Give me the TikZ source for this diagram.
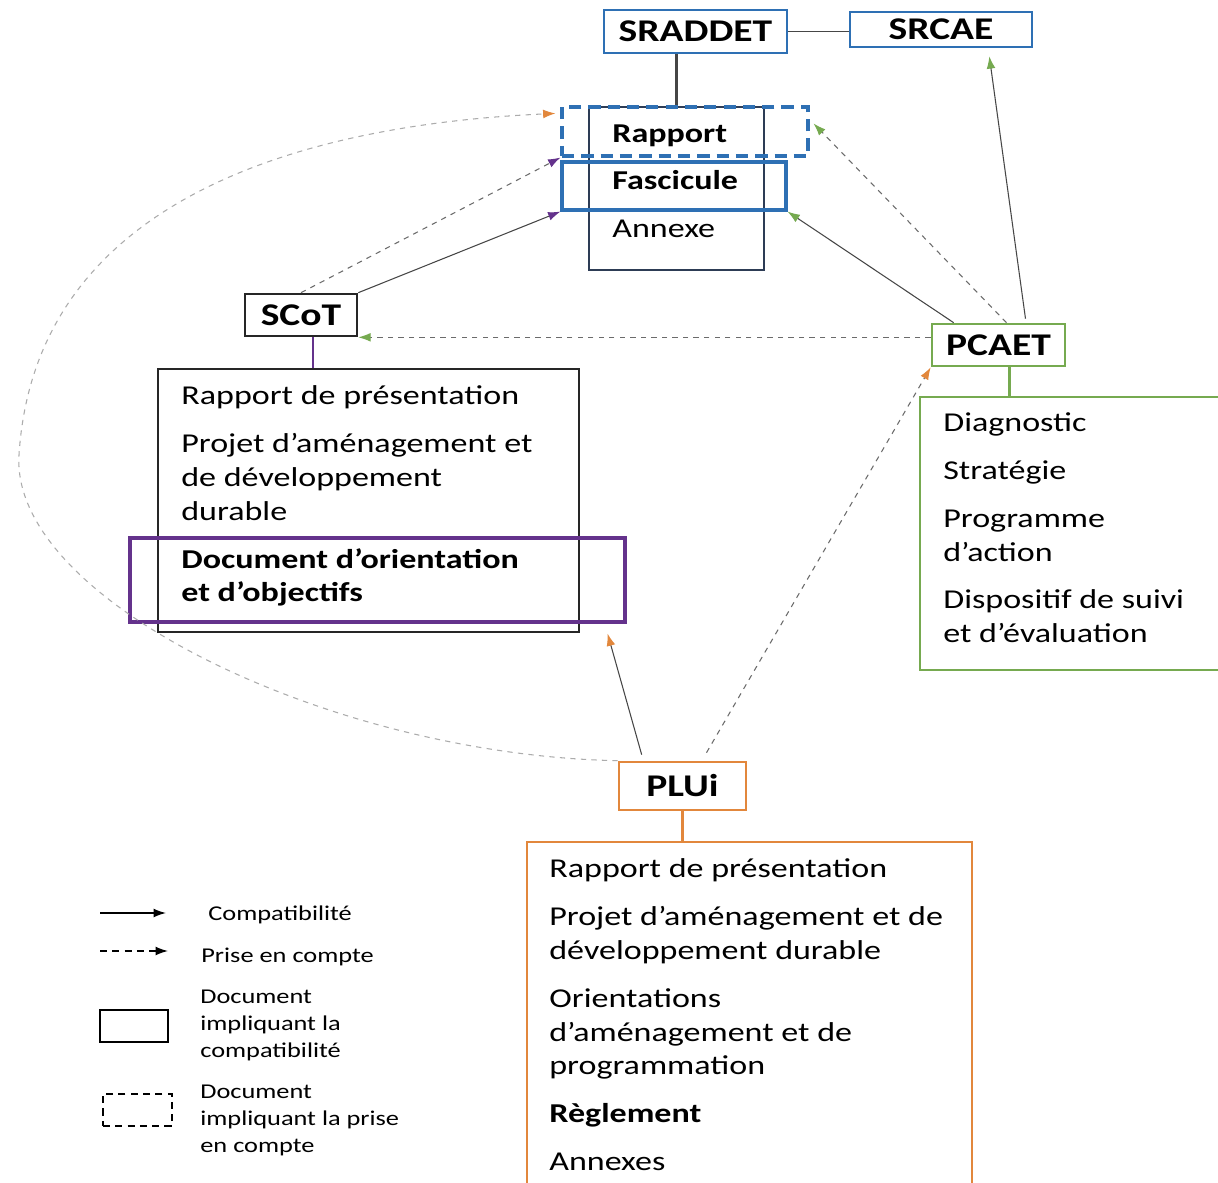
\documentclass[tikz,border=0pt]{standalone}
\usepackage{fontspec}
\setmainfont{Carlito}[FakeStretch=1.25]
\usepackage{tikz}
\usetikzlibrary{arrows.meta,calc,fit}

\definecolor{bleusr}{RGB}{46,112,180}
\definecolor{violetsc}{RGB}{100,50,140}
\definecolor{vertpc}{RGB}{118,170,80}
\definecolor{orangepl}{RGB}{226,135,60}
\definecolor{trait}{RGB}{70,70,70}
\definecolor{cadre}{RGB}{45,60,85}

\tikzset{
  titre/.style={draw, line width=1.5pt, inner sep=0pt},
  nomtitre/.style={inner sep=0pt, font=\fontsize{18}{22}\selectfont\bfseries},
  bloc/.style={draw, line width=1.3pt, inner sep=0pt},
  texte/.style={anchor=north west, inner sep=0pt, align=left, font=\fontsize{15.5}{19.3}\selectfont},
  legende/.style={inner sep=0pt, align=left, font=\fontsize{12}{15.3}\selectfont},
  compat/.style={draw=trait, line width=0.6pt},
  prise/.style={draw=trait!80, line width=0.6pt, dash pattern=on 3pt off 3pt},
  pointe/.style={-{Latex[length=7pt,width=5pt,color=#1]}},
}

\begin{document}
\begin{tikzpicture}[x=0.02cm,y=-0.02cm]
\useasboundingbox (0,0) rectangle (1218,1183);
\fill[white] (0,0) rectangle (1218,1183);
\clip (0,0) rectangle (1218,1183);

% SRADDET
\node[titre, draw=bleusr, fit={(604,10) (787,53)}, label={[nomtitre]center:SRADDET}] (sraddet) {};
\node[titre, draw=bleusr, fit={(850,12) (1032,47)}, label={[nomtitre]center:SRCAE}] (srcae) {};
\draw[trait, line width=0.9pt] (sraddet.east) -- (sraddet.east -| srcae.west);
\node[bloc, draw=cadre, fit={(589,107) (764,270)}] (colonne) {};
\draw[trait, line width=1.5pt] (sraddet.south -| colonne.north) -- (colonne.north);
\node[bloc, draw=bleusr, line width=1.8pt, dash pattern=on 7pt off 4pt, fit={(562,107) (808,156)}] (rapport) {};
\node[bloc, draw=bleusr, line width=1.8pt, fit={(562,162) (786,210)}] (fascicule) {};
\node[texte] (txtsraddet) at (612,124) {\textbf{Rapport}\\[8pt]\textbf{Fascicule}\\[8pt]Annexe};

% SCoT
\node[titre, draw=black!85, fit={(245,294) (357,336)}, label={[nomtitre]center:SCoT}] (scot) {};
\node[bloc, draw=black!85, fit={(158,369) (579,632)}] (scotdoc) {};
\node[bloc, draw=violetsc, line width=1.8pt, fit={(130,538) (625,622)}] (doo) {};
\coordinate (scotpied) at ($(scot.south)+(12,0)$);
\draw[violetsc, line width=1.5pt] (scotpied) -- (scotpied |- scotdoc.north);
\node[texte] (txtscot) at (181,385) {Rapport de présentation\\[8pt]Projet d’aménagement et\\de développement\\durable\\[8pt]\textbf{Document d’orientation}\\\textbf{et d’objectifs}};

% PCAET
\node[titre, draw=vertpc, fit={(932,324) (1065,366)}, label={[nomtitre]center:PCAET}] (pcaet) {};
\node[bloc, draw=vertpc, fit={(920,397) (1230,670)}] (pcaetdoc) {};
\coordinate (pcaetpied) at ($(pcaet.south)+(11,0)$);
\draw[vertpc, line width=1.5pt] (pcaetpied) -- (pcaetpied |- pcaetdoc.north);
\node[texte] (txtpcaet) at (943,412) {Diagnostic\\[8pt]Stratégie\\[8pt]Programme\\d’action\\[8pt]Dispositif de suivi\\et d’évaluation};

% PLUi
\node[titre, draw=orangepl, fit={(619,762) (746,810)}, label={[nomtitre]center:PLUi}] (plui) {};
\node[bloc, draw=orangepl, fit={(527,842) (972,1195)}] (pluidoc) {};
\draw[orangepl, line width=1.5pt] (plui.south) -- (pluidoc.north -| plui.south);
\node[texte] (txtplui) at (549,858) {Rapport de présentation\\[8pt]Projet d’aménagement et de\\développement durable\\[8pt]Orientations\\d’aménagement et de\\programmation\\[8pt]\textbf{Règlement}\\[8pt]Annexes};

% liens
\draw[compat, pointe=violetsc] (scot.north east) -- (fascicule.south west);
\draw[prise, pointe=violetsc] (scot.north) -- (rapport.south west);
\draw[compat, pointe=vertpc] ($(pcaet.north)+(27,-4)$) -- ($(srcae.south east)+(-44,8)$);
\draw[compat, pointe=vertpc] ($(pcaet.north west)+(23,0)$) -- (fascicule.south east);
\draw[prise, pointe=vertpc] ($(pcaet.north)+(8,0)$) -- ($(rapport.east)+(4,-8)$);
\draw[prise, pointe=vertpc] (pcaet.west |- scot.south east) -- (scot.south east);
\draw[prise, pointe=orangepl] ($(plui.north)+(24,-8)$) -- (pcaet.south west);
\draw[compat, pointe=orangepl] ($(plui.north west)+(24,-6)$) -- ($(doo.south east)+(-19,10)$);
\draw[prise, draw=trait!45, pointe=orangepl] (plui.north west) .. controls (330,755) and (10,600) .. (19,455)
  .. controls (35,200) and (300,125) .. ($(rapport.north west)+(-5,8)$);

% legende
\coordinate (c1a) at (100,913);
\coordinate (c1b) at (166,913);
\coordinate (c2a) at (100,951);
\coordinate (c2b) at (168,951);
\draw[black, line width=0.8pt, -{Latex[length=7pt,width=5pt]}] (c1a) -- (c1b);
\draw[black, line width=0.8pt, dash pattern=on 4pt off 3pt, -{Latex[length=7pt,width=5pt]}] (c2a) -- (c2b);
\node[legende, anchor=west] (lcompat) at (208,915) {Compatibilité};
\node[legende, anchor=west] (lprise) at (201,957) {Prise en compte};
\node[draw, line width=1pt, inner sep=0pt, fit={(100,1010) (168,1042)}] (boxcompat) {};
\node[legende, anchor=north west] (ldoccompat) at (200,990) {Document\\impliquant la\\compatibilité};
\node[draw, line width=0.8pt, dash pattern=on 4pt off 3pt, inner sep=0pt, fit={(103,1094) (172,1126)}] (boxprise) {};
\node[legende, anchor=north west] (ldocprise) at (200,1085) {Document\\impliquant la prise\\en compte};
\end{tikzpicture}
\end{document}
